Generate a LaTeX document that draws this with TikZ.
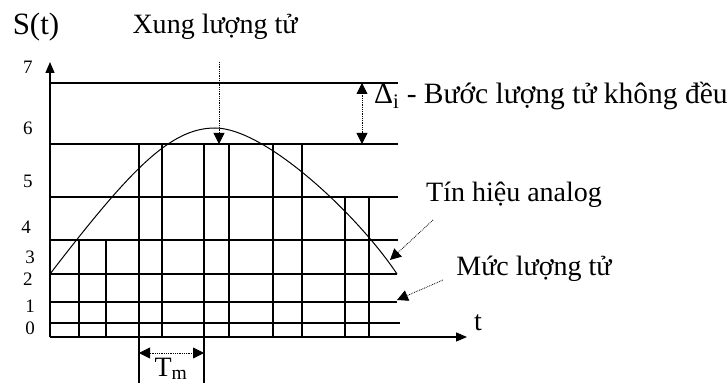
\documentclass[tikz,border=0pt]{standalone}
\usepackage{fontspec}
\setmainfont{Liberation Serif}
\usetikzlibrary{arrows.meta}

\begin{document}
\begin{tikzpicture}[x=1pt,y=1pt,
    grid/.style={line width=1.1pt},
    axis/.style={line width=1.3pt,-{Triangle[length=11pt,width=9pt]}},
    curve/.style={line width=1pt},
    ann/.style={densely dotted,line width=0.8pt,-{Triangle[length=11pt,width=11pt]}},
    ann2/.style={densely dotted,line width=0.8pt,{Triangle[length=11pt,width=11pt]}-{Triangle[length=11pt,width=11pt]}},
    lbl/.style={font=\fontsize{28}{30}\selectfont,inner sep=0pt},
    num/.style={font=\fontsize{19}{21}\selectfont,inner sep=0pt}
]
  \useasboundingbox (0,0) rectangle (727,383);

  % axes
  \coordinate (O) at (50,46);
  \coordinate (ytop) at (50,321);
  \coordinate (xend) at (467,46);
  \draw[axis] (O) -- (ytop);
  \draw[axis] (O) -- (xend);

  % quantization levels
  \foreach \y/\xe in {60/400,81/397,109/397,143/398,186/398,239/398,300/398}
    \draw[grid] (50,\y) -- (\xe,\y);

  % level numbers
  \foreach \n/\x/\y in {0/30/55,1/30/77,2/28/104,3/30/126,4/26/156,5/28/202,6/28/255,7/28/316}
    \node[num] (n\n) at (\x,\y) {\n};

  % samples and pulses
  \draw[grid] (79,46) -- (79,143) (106,46) -- (106,143);
  \draw[grid] (139,0) -- (139,239) -- (162,239) -- (162,46);
  \draw[grid] (204,0) -- (204,239) -- (229,239) -- (229,46);
  \draw[grid] (273,46) -- (273,239) -- (302,239) -- (302,46);
  \draw[grid] (345,46) -- (345,186);
  \draw[grid,line width=2.2pt] (369,46) -- (369,186);

  % analog signal
  \draw[curve] (50,109) .. controls (130,213) and (170,255) .. (215,255)
               .. controls (265,255) and (357,169) .. (397,109);

  % labels
  \node[lbl,font=\fontsize{31}{33}\selectfont] (St) at (36,356) {S(t)};
  \node[lbl] (xung) at (215,356) {Xung lượng tử};
  \node[lbl,anchor=west,font=\fontsize{29.5}{31}\selectfont] (delta) at (374,287) {Δ\textsubscript{i} - Bước lượng tử không đều};
  \node[lbl] (analog) at (514,188) {Tín hiệu analog};
  \node[lbl] (muc) at (534,114) {Mức lượng tử};
  \node[lbl] (tlbl) at (478,60) {t};
  \node[lbl,anchor=south] (Tm) at (171,3) {T\textsubscript{m}};

  % annotation arrows
  \coordinate (xtail) at (219,321);
  \coordinate (xtip) at (219,239);
  \draw[ann] (xtail) -- (xtip);

  \coordinate (d7) at (362,300);
  \coordinate (d6) at (362,239);
  \draw[ann2] (d6) -- (d7);

  \coordinate (atail) at (433,163);
  \coordinate (atip) at (390,123);
  \draw[ann] (atail) -- (atip);

  \coordinate (mtail) at (443,103);
  \coordinate (mtip) at (397,83);
  \draw[ann] (mtail) -- (mtip);

  \coordinate (tmL) at (139,30);
  \coordinate (tmR) at (204,30);
  \draw[ann2] (tmL) -- (tmR);
\end{tikzpicture}
\end{document}
